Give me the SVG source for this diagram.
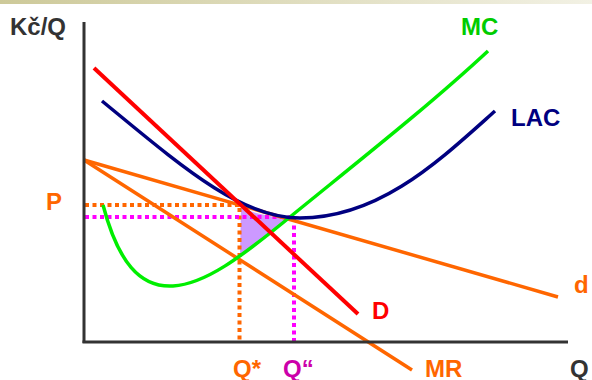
<svg xmlns="http://www.w3.org/2000/svg" width="592" height="380" viewBox="0 0 592 380">
<defs>
<linearGradient id="band" x1="0" y1="0" x2="1" y2="0">
<stop offset="0" stop-color="#cdc999"/>
<stop offset="1" stop-color="#f2f1e4"/>
</linearGradient>
</defs>
<style>
text{font-family:"Liberation Sans",Arial,sans-serif;font-weight:bold;font-size:24px}
.c{fill:none;stroke-linecap:butt}
.or{stroke:#ff6600;stroke-width:3.5}
.dot{fill:none;stroke-width:4;stroke-dasharray:4 3.5}
</style>
<rect x="0" y="0" width="592" height="380" fill="#ffffff"/>
<rect x="0" y="0" width="592" height="4" fill="url(#band)"/>
<g id="surplus">
<polygon points="241,208 256,213 272,216.5 289,218 240,255" fill="#cc99ff"/>
</g>
<g id="connectors">
<g id="guides">
<polyline class="dot" stroke="#ff6600" points="85,205 239.5,205 239.5,341"/>
<polyline class="dot" stroke="#ff00ff" points="85,217 294,217 294,341"/>
</g>
<g id="d"><line class="c or" x1="84" y1="160" x2="558" y2="297"/></g>
<g id="MR"><line class="c or" x1="84" y1="160" x2="412" y2="370"/></g>
<g id="MC"><path class="c" stroke="#00ee00" stroke-width="3.5" d="M103,205 C118,262 140,288 173,286 C205,284 240,258 290,217 C360,160 430,105 488,51"/></g>
<g id="LAC"><path class="c" stroke="#000080" stroke-width="3.5" d="M102,101 C180,165 240,218 300,218 C380,218 440,160 495,111"/></g>
<g id="D"><line class="c" stroke="#ff0000" stroke-width="4" x1="94" y1="68" x2="358" y2="314"/></g>
<g id="axes">
<line x1="84" y1="22" x2="84" y2="343" stroke="#333333" stroke-width="3"/>
<line x1="82.5" y1="342" x2="568" y2="342" stroke="#333333" stroke-width="3"/>
</g>
</g>
<g id="labels">
<text x="10" y="35" fill="#333333">Kč/Q</text>
<text x="461" y="35" fill="#00cc00">MC</text>
<text x="511" y="126" fill="#000080">LAC</text>
<text x="46" y="210" fill="#ff6600">P</text>
<text x="574" y="293" fill="#ff6600">d</text>
<text x="372" y="319" fill="#ff0000">D</text>
<text x="233" y="377" fill="#ff6600">Q*</text>
<text x="283" y="377" fill="#cc00aa">Q“</text>
<text x="425" y="377" fill="#ff6600">MR</text>
<text x="570" y="377" fill="#333333">Q</text>
</g>
</svg>
